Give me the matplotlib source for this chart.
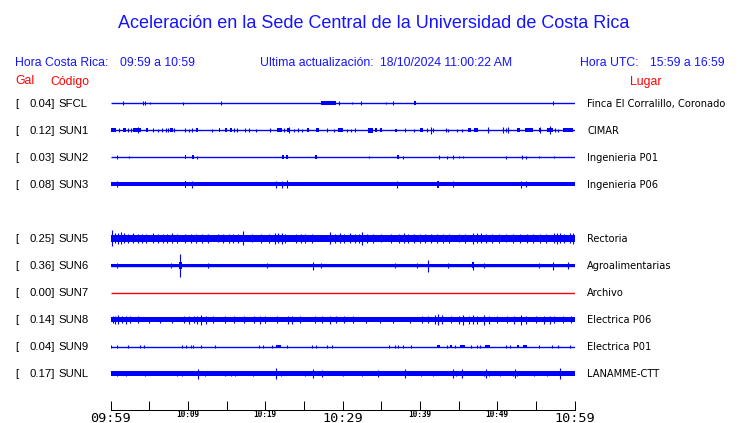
import matplotlib
matplotlib.use("Agg")
import matplotlib.pyplot as plt
from matplotlib import transforms

# station table
codes = ["SFCL", "SUN1", "SUN2", "SUN3", "SUN5", "SUN6", "SUN7", "SUN8", "SUN9", "SUNL"]
gal = [0.04, 0.12, 0.03, 0.08, 0.25, 0.36, 0.00, 0.14, 0.04, 0.17]
places = ["Finca El Corralillo, Coronado", "CIMAR", "Ingenieria P01", "Ingenieria P06",
          "Rectoria", "Agroalimentarias", "Archivo", "Electrica P06", "Electrica P01",
          "LANAMME-CTT"]
rows = [0, 1, 2, 3, 5, 6, 7, 8, 9, 10]
# half thickness of the noise band (pixels of trace scale)
band = [0, 0.6, 0, 2.0, 3.5, 1.7, 0, 2.7, 0, 2.0]

# bursts: (start minute, end minute, half amplitude)
sfcl = [(1.66, 1.66, 2), (4.25, 4.25, 2), (4.46, 4.46, 2), (5.1, 5.1, 1), (9.42, 9.42, 1.5),
        (14.3, 14.3, 2), (27.2, 29.1, 2), (29.5, 29.5, 2), (31.27, 31.27, 1), (32.35, 32.35, 2),
        (35.63, 35.63, 1), (36.58, 36.58, 2), (39.25, 39.5, 2), (57.26, 57.26, 2)]
sun1 = [(0.06, 0.67, 2), (1.1, 1.1, 2), (1.66, 1.96, 2), (2.22, 2.22, 2), (2.65, 2.65, 2),
        (2.91, 3.95, 2), (3.6, 3.6, 3), (4.63, 4.89, 2), (5.45, 5.45, 2), (6.18, 6.18, 1.5),
        (6.62, 6.62, 2), (7.18, 7.18, 2), (7.48, 7.48, 2), (7.74, 8.08, 2), (8.25, 8.25, 2),
        (9.63, 9.63, 2), (10.15, 10.15, 1.5), (10.5, 10.5, 2), (11.06, 11.36, 2),
        (13.17, 13.17, 1.5), (14.03, 14.2, 2), (14.8, 15.1, 2), (15.41, 15.67, 2),
        (15.97, 15.97, 2), (16.32, 16.32, 2), (17.4, 17.4, 2), (17.95, 17.95, 2),
        (18.77, 18.77, 1.5), (20.6, 20.6, 2), (21.49, 22.13, 2), (22.43, 22.43, 2),
        (22.86, 23.2, 2), (23.1, 23.1, 3), (23.73, 23.73, 1.5), (24.29, 24.29, 2),
        (24.72, 24.72, 1.5), (25.41, 25.67, 2), (26.53, 27.0, 2), (28.04, 28.04, 2),
        (28.9, 28.9, 1.5), (29.46, 30.1, 2), (30.54, 30.54, 1.5), (31.1, 31.1, 1.5),
        (31.62, 31.62, 2), (33.34, 33.9, 2.5), (34.2, 34.4, 2), (34.85, 35.07, 2),
        (36.78, 37.09, 1.5), (38.08, 38.08, 2), (39.25, 39.25, 1.5), (40.0, 40.46, 2),
        (40.89, 40.89, 2), (41.4, 41.4, 3.5), (41.66, 41.66, 2), (43.38, 43.38, 2),
        (43.69, 43.69, 1.5), (44.85, 44.85, 1.5), (45.41, 45.41, 1.5), (46.27, 46.57, 2),
        (46.96, 47.49, 2), (48.86, 48.86, 3), (50.72, 50.72, 3), (51.1, 51.1, 2),
        (51.45, 51.45, 3), (52.5, 52.96, 2), (53.6, 54.68, 2), (55.42, 55.72, 2),
        (55.6, 55.6, 3), (56.84, 56.84, 4), (56.5, 57.2, 2), (57.48, 57.48, 2),
        (57.9, 57.9, 1.5), (58.47, 59.85, 2)]
sun2 = [(0.8, 0.8, 2), (2.44, 2.44, 1), (9.63, 9.8, 2), (10.58, 10.75, 2), (11.18, 11.18, 1.5),
        (22.22, 22.4, 2), (22.74, 22.9, 2), (26.45, 26.65, 2), (33.47, 33.47, 1),
        (37.09, 37.26, 2), (37.78, 37.78, 1.5), (42.44, 42.44, 2), (43.47, 43.47, 1.5),
        (44.25, 44.25, 2), (45.1, 45.1, 1), (45.63, 45.63, 1), (51.1, 51.1, 1.5),
        (53.18, 53.18, 2), (53.73, 53.73, 1.5), (55.42, 55.42, 1), (57.4, 57.4, 1)]
sun3 = [(0.8, 0.8, 3), (9.63, 9.8, 3.5), (10.58, 10.58, 3.5), (21.36, 21.36, 3.5),
        (22.22, 22.22, 3.5), (22.78, 22.9, 4), (37.09, 37.09, 3.5), (42.18, 42.5, 3.5),
        (44.33, 44.33, 3), (53.09, 53.09, 3.5), (53.69, 53.69, 3)]
sun5 = [(0.24, 0.24, 8), (0.6, 0.6, 5), (1.0, 1.0, 5.5), (1.36, 1.36, 6), (1.8, 1.8, 5),
        (2.3, 2.3, 4.5), (2.95, 2.95, 5), (3.5, 3.5, 4.5), (4.03, 4.03, 4.5), (4.6, 4.6, 4.5),
        (5.54, 5.54, 5), (6.2, 6.2, 4.5), (6.8, 6.8, 4.5), (7.26, 7.26, 4.5), (7.91, 7.91, 5),
        (8.6, 8.6, 4.5), (9.63, 9.63, 4.5), (10.4, 10.4, 4.5), (11.0, 11.0, 4.5),
        (11.79, 11.79, 4.5), (12.6, 12.6, 4.5), (13.95, 13.95, 4), (14.5, 14.5, 4.5),
        (15.3, 15.3, 4.5), (15.88, 15.88, 4.5), (16.5, 16.5, 4.5), (17.18, 17.18, 7),
        (18.26, 18.26, 4), (19.4, 19.4, 4.5), (20.5, 20.5, 4.5), (21.27, 21.27, 5.5),
        (21.7, 21.7, 5), (22.13, 22.13, 5.5), (22.6, 22.6, 4.5), (24.0, 24.0, 4.5),
        (24.6, 24.6, 4.5), (25.2, 25.2, 4.5), (26.0, 26.0, 4.5), (28.38, 28.38, 6),
        (29.0, 29.0, 4.5), (29.7, 29.7, 5), (30.2, 30.2, 4.5), (31.0, 31.0, 5),
        (31.6, 31.6, 4.5), (32.1, 32.1, 4.5), (32.56, 32.56, 6.5), (33.2, 33.2, 4.5),
        (34.0, 34.0, 4.5), (35.0, 35.0, 4), (36.3, 36.3, 4.5), (37.3, 37.3, 4.5),
        (37.9, 37.9, 5), (38.5, 38.5, 4.5), (39.2, 39.2, 4.5), (40.0, 40.0, 4.5),
        (40.7, 40.7, 4.5), (41.5, 41.5, 4.5), (42.2, 42.2, 4.5), (43.0, 43.0, 4.5),
        (43.8, 43.8, 4.5), (45.0, 45.0, 4), (45.9, 45.9, 4.5), (46.9, 46.9, 5.5),
        (47.4, 47.4, 5), (47.9, 47.9, 5), (48.6, 48.6, 4.5), (49.3, 49.3, 4.5),
        (50.2, 50.2, 4.5), (51.2, 51.2, 4), (52.0, 52.0, 4.5), (52.96, 52.96, 4.5),
        (53.8, 53.8, 4.5), (54.68, 54.68, 4.5), (55.5, 55.5, 4.5), (56.3, 56.3, 4.5),
        (57.3, 57.3, 5), (57.7, 57.7, 5.5), (58.1, 58.1, 5), (58.7, 58.7, 4.5),
        (59.4, 59.4, 5), (59.8, 59.8, 5.5)]
sun6 = [(0.8, 0.8, 3), (7.82, 7.82, 2.5), (8.85, 9.2, 3.5), (9.03, 9.03, 11), (12.57, 12.57, 3),
        (20.2, 20.2, 2.5), (26.23, 26.23, 4), (27.2, 27.2, 2.5), (36.78, 36.78, 3),
        (39.68, 39.68, 2), (41.1, 41.1, 6), (43.69, 43.69, 2), (46.9, 46.9, 4),
        (46.8, 47.0, 3), (48.3, 48.3, 3), (55.46, 55.46, 3), (57.27, 57.27, 4),
        (59.2, 59.2, 3.5)]
sun7 = []
sun8 = [(0.3, 0.3, 3.5), (0.6, 0.6, 4), (1.0, 1.0, 4.5), (1.5, 1.5, 3.5), (2.0, 2.0, 4),
        (2.5, 2.5, 3.5), (3.6, 3.6, 3.5), (5.0, 5.0, 3), (6.4, 6.4, 3), (8.0, 8.0, 3),
        (9.5, 9.5, 3.5), (10.2, 10.2, 4), (10.8, 10.8, 3.5), (11.2, 11.2, 4), (11.66, 11.66, 5),
        (12.3, 12.3, 4), (13.3, 13.3, 3.5), (14.8, 14.8, 3.5), (16.0, 16.0, 3.5),
        (17.2, 17.2, 3.5), (18.6, 18.6, 3.5), (19.3, 19.3, 4), (20.0, 20.0, 3.5),
        (21.5, 21.5, 3.5), (22.9, 22.9, 4), (23.5, 23.5, 4), (24.5, 24.5, 3.5),
        (26.4, 26.4, 3.5), (27.3, 27.3, 3.5), (28.4, 28.4, 4), (29.2, 29.2, 3.5),
        (30.2, 30.2, 3.5), (31.4, 31.4, 3.5), (33.0, 33.0, 3), (34.85, 34.85, 3),
        (36.5, 36.5, 3), (38.7, 38.7, 3), (40.3, 40.3, 3.5), (41.0, 41.0, 3.5),
        (42.0, 42.0, 4.5), (42.4, 42.4, 5.5), (42.9, 42.9, 4.5), (44.0, 44.0, 3.5),
        (45.0, 45.0, 4), (45.6, 45.6, 5), (46.3, 46.3, 4), (46.9, 46.9, 4.5), (47.4, 47.4, 4),
        (48.3, 48.3, 5), (48.9, 48.9, 4), (50.0, 50.0, 3.5), (51.3, 51.3, 3.5), (52.2, 52.2, 4),
        (53.1, 53.1, 5), (53.7, 53.7, 4), (55.0, 55.0, 3.5), (56.0, 56.0, 4), (56.8, 56.8, 4),
        (57.4, 57.4, 3.5), (58.5, 58.5, 3.5), (59.5, 59.5, 3.5)]
sun9 = [(0.06, 0.06, 1.5), (0.8, 0.8, 1.5), (2.22, 2.22, 1.5), (3.82, 3.82, 1.5),
        (4.37, 4.37, 1.5), (9.3, 9.3, 1.5), (9.76, 9.76, 1.5), (10.41, 10.41, 1.5),
        (10.7, 10.7, 1.5), (11.66, 11.66, 1.5), (13.5, 13.5, 1.5), (19.2, 19.2, 1.5),
        (19.76, 19.76, 1.5), (20.93, 20.93, 1.5), (21.36, 22.05, 1.5), (22.78, 22.78, 1.5),
        (26.0, 26.0, 1.5), (26.53, 26.53, 1.5), (27.95, 27.95, 1.5), (28.6, 28.6, 1.5),
        (36.06, 36.06, 1.5), (36.78, 36.78, 1.5), (37.2, 37.2, 1.5), (37.87, 37.87, 1.5),
        (38.8, 38.8, 1.5), (42.2, 42.6, 1.5), (43.47, 43.47, 1.5), (43.9, 44.1, 1.5),
        (44.55, 44.55, 1.5), (45.2, 45.8, 1.5), (46.57, 46.57, 1.5), (47.43, 47.43, 1.5),
        (47.78, 47.78, 1.5), (48.4, 49.08, 1.5), (51.1, 51.1, 1.5), (51.67, 51.67, 1.5),
        (52.53, 52.8, 1.5), (53.3, 53.8, 1.5), (55.46, 55.46, 1.5), (57.05, 57.05, 1.5),
        (57.9, 57.9, 1.5), (59.4, 59.4, 1.5)]
sunl = [(0.8, 0.8, 3), (2.0, 2.0, 2.5), (4.5, 4.5, 2.5), (8.6, 8.6, 3), (9.2, 9.2, 3),
        (11.3, 11.3, 5), (12.2, 12.2, 2.5), (14.8, 14.8, 2.5), (15.6, 15.6, 3), (16.1, 16.1, 3),
        (18.4, 18.4, 2.5), (21.4, 21.4, 5.5), (22.0, 22.0, 3), (25.2, 25.2, 2.5),
        (26.2, 26.2, 4), (27.3, 27.3, 3.5), (30.0, 30.0, 2.5), (32.5, 32.5, 2.5),
        (34.6, 34.6, 3.5), (38.1, 38.1, 4), (40.2, 40.2, 3), (41.7, 41.7, 2.5),
        (44.3, 44.3, 4.5), (44.7, 44.7, 3), (45.5, 45.5, 4.5), (48.3, 48.3, 3),
        (48.6, 48.6, 4.5), (48.9, 48.9, 3), (50.4, 50.4, 3), (52.0, 52.0, 3), (52.3, 52.3, 4.5),
        (52.6, 52.6, 3), (54.7, 54.7, 2.5), (56.5, 56.5, 2.5), (58.1, 58.1, 6)]
events = [sfcl, sun1, sun2, sun3, sun5, sun6, sun7, sun8, sun9, sunl]

tick_min = list(range(0, 61, 5))
tick_text = ["09:59", "", "10:09", "", "10:19", "", "10:29", "", "10:39", "", "10:49", "", "10:59"]
big_ticks = ["09:59", "10:29", "10:59"]

BLUE = "#0000ff"
TXT_BLUE = "#1414ff"
RED = "#ff0000"
W, H = 740, 423
ROW_PX = 27.0
LW = 0.72  # one pixel

fig = plt.figure(figsize=(W / 100, H / 100), dpi=100)
fig.patch.set_facecolor("white")

top_px, bot_px = 90.0, 409.5
ax = fig.add_axes([110.5 / W, (H - bot_px) / H, 464 / W, (bot_px - top_px) / H])
ax.set_xlim(0, 60)
ax.set_ylim((bot_px - 103.5) / ROW_PX, (top_px - 103.5) / ROW_PX)
ax.set_facecolor("none")

for code, r, b, ev in zip(codes, rows, band, events):
    col = RED if code == "SUN7" else BLUE
    ax.hlines(r, 0, 60, color=col, lw=1.0)
    if b > 0.7:
        ax.fill_between([0, 60], r - b / ROW_PX, r + b / ROW_PX, color=col, lw=0)
    for t0, t1, a in ev:
        if t1 - t0 < 0.12:
            ax.vlines(t0, r - a / ROW_PX, r + a / ROW_PX, color=col, lw=LW * 1.1)
        else:
            ax.fill_between([t0, t1], r - a / ROW_PX, r + a / ROW_PX, color=col, lw=0)

# bottom time axis
for s in ["top", "left", "right"]:
    ax.spines[s].set_visible(False)
ax.spines["bottom"].set_linewidth(LW)
ax.set_yticks([])
ax.set_xticks(tick_min)
ax.set_xticklabels([])
ax.tick_params(axis="x", direction="in", length=9.5 * LW, width=LW, color="black")
xt = transforms.blended_transform_factory(ax.transData, ax.transAxes)
for t, lab in zip(tick_min, tick_text):
    if not lab:
        continue
    if lab in big_ticks:
        tr = transforms.offset_copy(xt, fig, y=-12.0 * LW, units="points")
        ax.text(t, 0, lab, transform=tr, ha="center", va="baseline",
                family="DejaVu Sans Mono", fontsize=9.7, clip_on=False)
    else:
        tr = transforms.offset_copy(xt, fig, y=-7.0 * LW, units="points")
        ax.text(t, 0, lab, transform=tr, ha="center", va="baseline",
                family="DejaVu Sans Mono", fontsize=5.6, weight="bold", clip_on=False)

# row labels
lt = transforms.blended_transform_factory(fig.transFigure, ax.transData)
lt = transforms.offset_copy(lt, fig, y=-3.3 * LW, units="points")
for code, r, g, place in zip(codes, rows, gal, places):
    ax.text(15 / W, r, "[", transform=lt, ha="left", va="baseline",
            family="Liberation Sans", fontsize=8.2, clip_on=False)
    ax.text(54.5 / W, r, f"{g:.2f}]", transform=lt, ha="right", va="baseline",
            family="Liberation Sans", fontsize=8.2, clip_on=False)
    ax.text(58.5 / W, r, code, transform=lt, ha="left", va="baseline",
            family="Liberation Sans", fontsize=8.2, clip_on=False)
    ax.text(587 / W, r, place, transform=lt, ha="left", va="baseline",
            family="DejaVu Sans", fontsize=7.15, clip_on=False)


def ftext(x, y, s, **kw):
    fig.text(x / W, 1 - y / H, s, va="baseline", family="Liberation Sans", **kw)


ftext(373.5, 28.5, "Aceleración en la Sede Central de la Universidad de Costa Rica",
      ha="center", fontsize=13, color=TXT_BLUE)
ftext(15, 66, "Hora Costa Rica:", fontsize=8.8, color=TXT_BLUE)
ftext(120, 66, "09:59 a 10:59", fontsize=8.8, color=TXT_BLUE)
ftext(260, 66, "Ultima actualización:", fontsize=8.8, color=TXT_BLUE)
ftext(380.5, 66, "18/10/2024 11:00:22 AM", fontsize=8.8, color=TXT_BLUE)
ftext(580.5, 66, "Hora UTC:", fontsize=8.8, color=TXT_BLUE)
ftext(650.5, 66, "15:59 a 16:59", fontsize=8.8, color=TXT_BLUE)
ftext(15, 84.5, "Gal", fontsize=8.8, color=RED)
ftext(50, 84.5, "Código", fontsize=8.8, color=RED)
ftext(630, 84.5, "Lugar", fontsize=8.8, color=RED)

fig.savefig("out.png", dpi=100)
